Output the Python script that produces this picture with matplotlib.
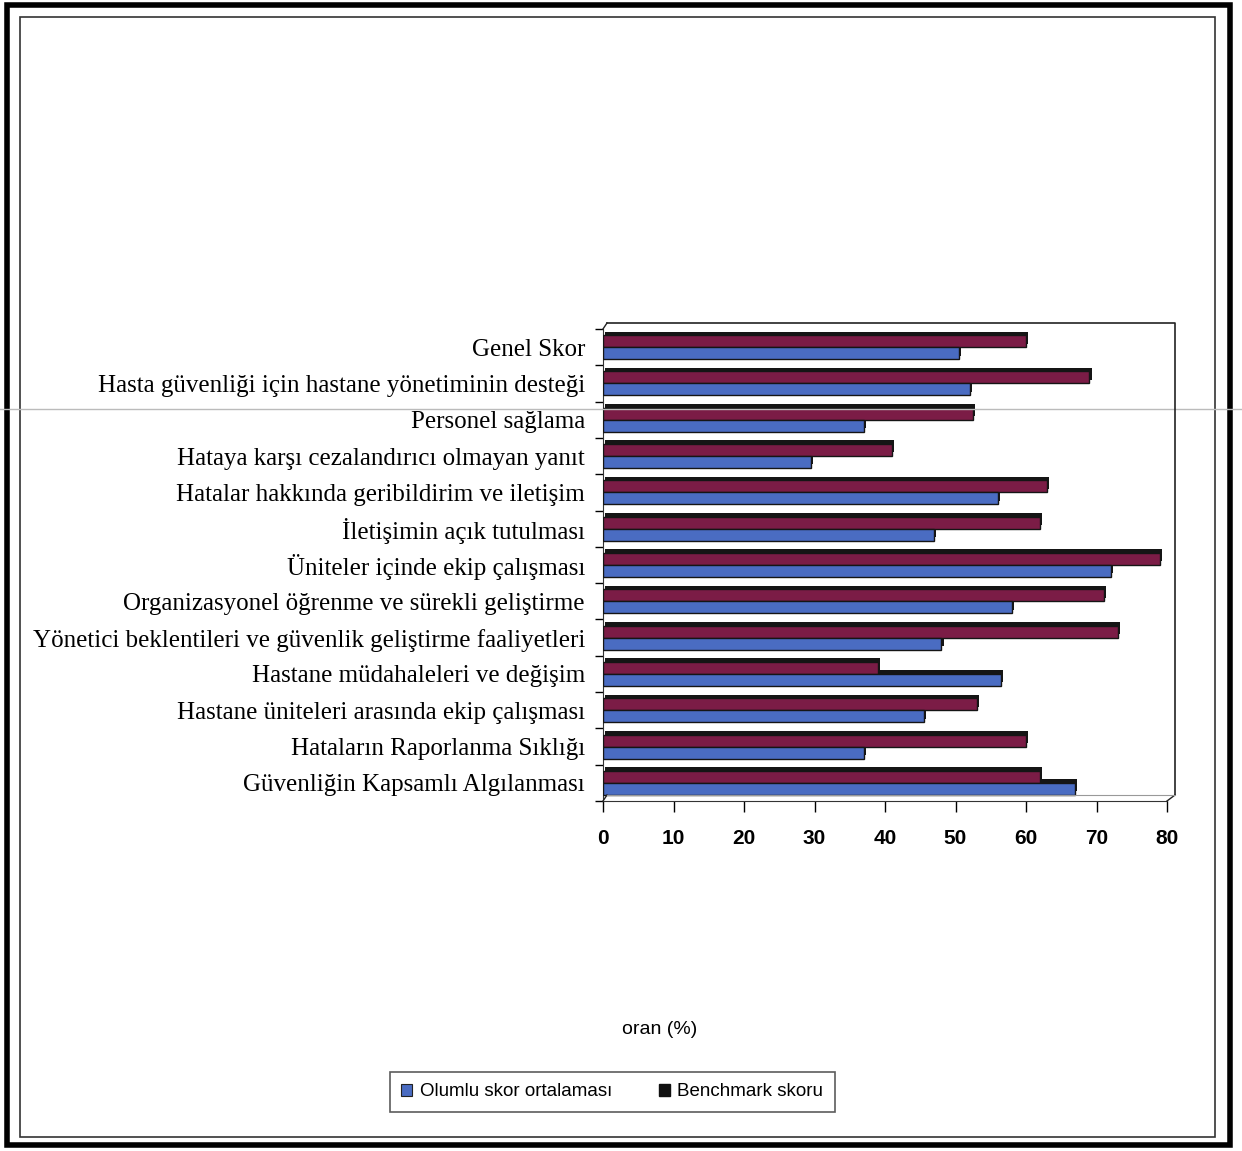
import numpy as np
import matplotlib.pyplot as plt
from matplotlib.lines import Line2D
from matplotlib.patches import Rectangle

W, H = 1242, 1151

categories = [
    "Genel Skor",
    "Hasta güvenliği için hastane yönetiminin desteği",
    "Personel sağlama",
    "Hataya karşı cezalandırıcı olmayan yanıt",
    "Hatalar hakkında geribildirim ve iletişim",
    "İletişimin açık tutulması",
    "Üniteler içinde ekip çalışması",
    "Organizasyonel öğrenme ve sürekli geliştirme",
    "Yönetici beklentileri ve güvenlik geliştirme faaliyetleri",
    "Hastane müdahaleleri ve değişim",
    "Hastane üniteleri arasında ekip çalışması",
    "Hataların Raporlanma Sıklığı",
    "Güvenliğin Kapsamlı Algılanması",
]
olumlu = [50.5, 52, 37, 29.5, 56, 47, 72, 58, 48, 56.5, 45.5, 37, 67]
benchmark = [60, 69, 52.5, 41, 63, 62, 79, 71, 73, 39, 53, 60, 62]
xticks = [0, 10, 20, 30, 40, 50, 60, 70, 80]

red = '#7b1c46'
blue = '#4a6cc2'


def fp(x, y):
    # pixel -> figure coords
    return x / W, 1 - y / H


fig = plt.figure(figsize=(W / 100, H / 100), dpi=100)
fig.patch.set_facecolor('white')

# outer frames
fig.add_artist(Rectangle(fp(7, 1145), (1223) / W, (1140) / H, transform=fig.transFigure,
                         fill=False, lw=4, ec='black'))
fig.add_artist(Rectangle(fp(20, 1137), (1195) / W, (1120) / H, transform=fig.transFigure,
                         fill=False, lw=1.2, ec='#333333'))
# faint scan line
fig.add_artist(Line2D([0, 1], [fp(0, 409)[1]] * 2, transform=fig.transFigure,
                      lw=1, color='#bbbbbb'))

x0, x1, ytop, ybot = 603, 1167, 329, 801
ax = fig.add_axes([x0 / W, 1 - ybot / H, (x1 - x0) / W, (ybot - ytop) / H])
ax.set_facecolor('none')
n = len(categories)
ypos = np.arange(n)[::-1]
h = 0.33
dx, dy = 0.3, 0.1

# 3d-ish bars: dark depth face behind, colored front
for vals, off, col in [(benchmark, h / 2, red), (olumlu, -h / 2, blue)]:
    ax.barh(ypos + off + dy, vals, height=h, left=dx, color='#151515', zorder=2)
    ax.barh(ypos + off, vals, height=h, color=col, edgecolor='#151515', lw=1.0, zorder=3)

ax.set_xlim(0, 80)
ax.set_ylim(-0.5, n - 0.5)
ax.set_xticks(xticks)
ax.set_xticklabels([str(t) for t in xticks], fontsize=15, fontweight='bold',
                   family='Liberation Sans')
ax.tick_params(axis='x', length=8, width=1, pad=12)
ax.set_yticks(ypos)
ax.set_yticklabels(categories, family='Liberation Serif', fontsize=18)
ax.tick_params(axis='y', which='major', length=0, pad=13)
ax.set_yticks(np.arange(n + 1) - 0.5, minor=True)
ax.tick_params(axis='y', which='minor', length=6, width=1)
for s in ['top', 'right']:
    ax.spines[s].set_visible(False)
ax.spines['left'].set_color('#333333')
ax.spines['bottom'].set_color('#333333')

# back wall of the 3d box
bx = [(607, 323), (1175, 323), (1175, 795)]
fig.add_artist(Line2D([fp(*p)[0] for p in bx], [fp(*p)[1] for p in bx],
                      transform=fig.transFigure, lw=1.2, color='#222222'))
for a, b in [((603, 329), (607, 323)), ((1167, 801), (1175, 795)), ((603, 801), (607, 795))]:
    fig.add_artist(Line2D([fp(*a)[0], fp(*b)[0]], [fp(*a)[1], fp(*b)[1]],
                          transform=fig.transFigure, lw=1.0, color='#222222'))
fig.add_artist(Line2D([fp(607, 795)[0], fp(1175, 795)[0]], [fp(607, 795)[1]] * 2,
                      transform=fig.transFigure, lw=0.8, color='#999999'))

fig.text(*fp(660, 1030), 'oran (%)', ha='center', va='center', fontsize=14,
         family='Liberation Sans')

handles = [Rectangle((0, 0), 1, 1, fc=blue, ec='#222222', lw=0.8),
           Rectangle((0, 0), 1, 1, fc='#111111', ec='#111111')]
leg = fig.legend(handles, ['Olumlu skor ortalaması', 'Benchmark skoru'],
                 loc='center', bbox_to_anchor=fp(612, 1092), ncol=2, frameon=True,
                 fancybox=False, edgecolor='#333333',
                 prop={'family': 'Liberation Sans', 'size': 13.5},
                 handlelength=0.6, handleheight=0.6, handletextpad=0.4,
                 columnspacing=2.5, borderpad=0.6)
leg.get_frame().set_linewidth(1.2)

fig.savefig('out.png', dpi=100)
